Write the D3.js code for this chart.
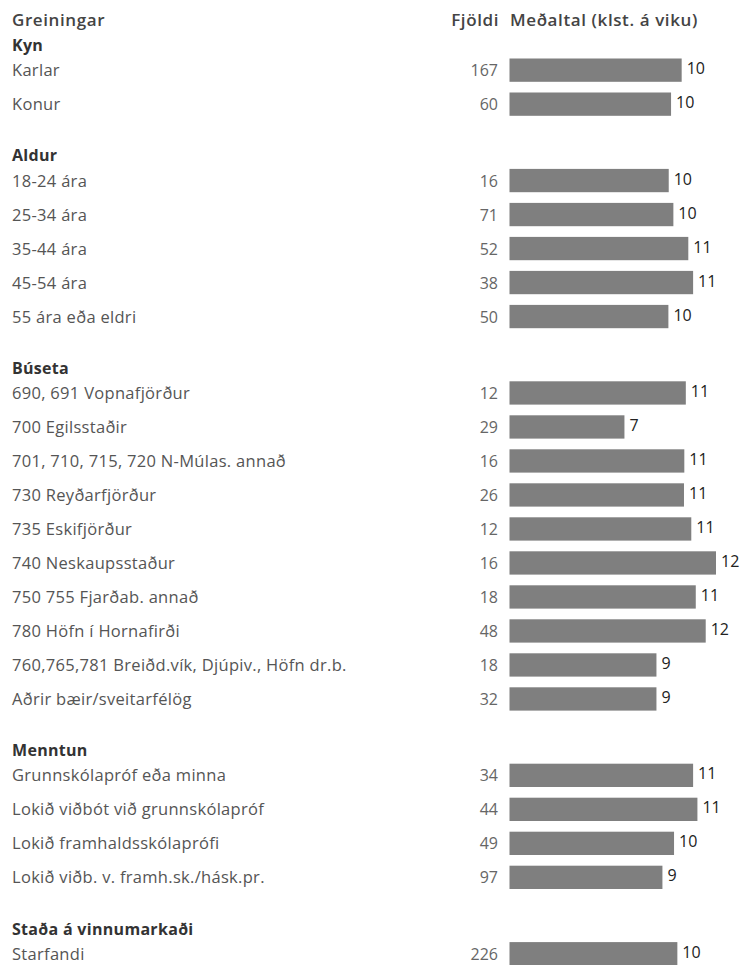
<!DOCTYPE html>
<html>
<head>
<meta charset="utf-8">
<script src="https://cdn.jsdelivr.net/npm/d3@7"></script>
<style>
  body { margin: 0; background: #fff; }
  svg { display: block; font-family: "Source Sans Pro", "Open Sans", sans-serif; }
</style>
</head>
<body>
<div id="chart"></div>
<script>
// groups (headings) and which group each row belongs to
const groupNames = ["Kyn", "Aldur", "Búseta", "Menntun", "Staða á vinnumarkaði"];
const rowGroup = [0, 0, 1, 1, 1, 1, 1, 2, 2, 2, 2, 2, 2, 2, 2, 2, 2, 3, 3, 3, 3, 4];
const rowLabels = [
  "Karlar", "Konur",
  "18-24 ára", "25-34 ára", "35-44 ára", "45-54 ára", "55 ára eða eldri",
  "690, 691 Vopnafjörður", "700 Egilsstaðir", "701, 710, 715, 720 N-Múlas. annað",
  "730 Reyðarfjörður", "735 Eskifjörður", "740 Neskaupsstaður", "750 755 Fjarðab. annað",
  "780 Höfn í Hornafirði", "760,765,781 Breiðd.vík, Djúpiv., Höfn dr.b.", "Aðrir bæir/sveitarfélög",
  "Grunnskólapróf eða minna", "Lokið viðbót við grunnskólapróf", "Lokið framhaldsskólaprófi",
  "Lokið viðb. v. framh.sk./hásk.pr.",
  "Starfandi"
];
const counts = [167, 60, 16, 71, 52, 38, 50, 12, 29, 16, 26, 12, 16, 18, 48, 18, 32, 34, 44, 49, 97, 226];
const means = [10.38, 9.74, 9.6, 9.88, 10.78, 11.07, 9.58, 10.63, 6.93, 10.54, 10.52, 10.96, 12.45,
  11.23, 11.83, 8.86, 8.86, 11.07, 11.33, 9.92, 9.22, 10.12];

const headLeft = "Greiningar", headCount = "Fjöldi", headMean = "Meðaltal (klst. á viku)";

const width = 741, height = 965;
const rowStep = 34, groupGap = 42.4, barH = 23.3, firstTop = 58.5;

const svg = d3.select("#chart").append("svg")
  .attr("width", width)
  .attr("height", height);

const x = d3.scaleLinear()
  .domain([0, d3.max(means)])
  .range([509.5, 716]);

// bar top for row i
const yTop = i => firstTop + i * rowStep + rowGroup[i] * groupGap;

const rows = rowLabels.map((label, i) => ({label, count: counts[i], mean: means[i], i}));

// column header
const head = (xp, anchor, txt) => svg.append("text")
  .attr("x", xp).attr("y", 26)
  .attr("text-anchor", anchor)
  .attr("font-size", 17)
  .attr("font-weight", 600)
  .attr("letter-spacing", 0.6)
  .attr("fill", "#444")
  .text(txt);
head(12, "start", headLeft);
head(499, "end", headCount);
head(510, "start", headMean);

// group headings
svg.selectAll("text.group")
  .data(groupNames)
  .enter()
  .append("text")
  .attr("class", "group")
  .attr("x", 12)
  .attr("y", (d, g) => yTop(rowGroup.indexOf(g)) - 7.5)
  .attr("font-size", 16)
  .attr("font-weight", "bold")
  .attr("letter-spacing", 0.3)
  .attr("fill", "#333")
  .text(d => d);

const row = svg.selectAll("g.row")
  .data(rows)
  .enter()
  .append("g")
  .attr("class", "row");

row.append("text")
  .attr("x", 12)
  .attr("y", d => yTop(d.i) + barH / 2 + 6)
  .attr("font-size", 16.5)
  .attr("letter-spacing", 0.3)
  .attr("fill", "#555")
  .text(d => d.label);

row.append("text")
  .attr("x", 498)
  .attr("y", d => yTop(d.i) + barH / 2 + 6)
  .attr("text-anchor", "end")
  .attr("font-size", 16)
  .attr("fill", "#666")
  .text(d => d.count);

row.append("rect")
  .attr("x", x(0))
  .attr("y", d => yTop(d.i))
  .attr("width", d => x(d.mean) - x(0))
  .attr("height", barH)
  .attr("fill", "#7f7f7f");

row.append("text")
  .attr("x", d => x(d.mean) + 5)
  .attr("y", d => yTop(d.i) + barH / 2 + 4)
  .attr("font-size", 16)
  .attr("fill", "#222")
  .text(d => Math.round(d.mean));
</script>
</body>
</html>
